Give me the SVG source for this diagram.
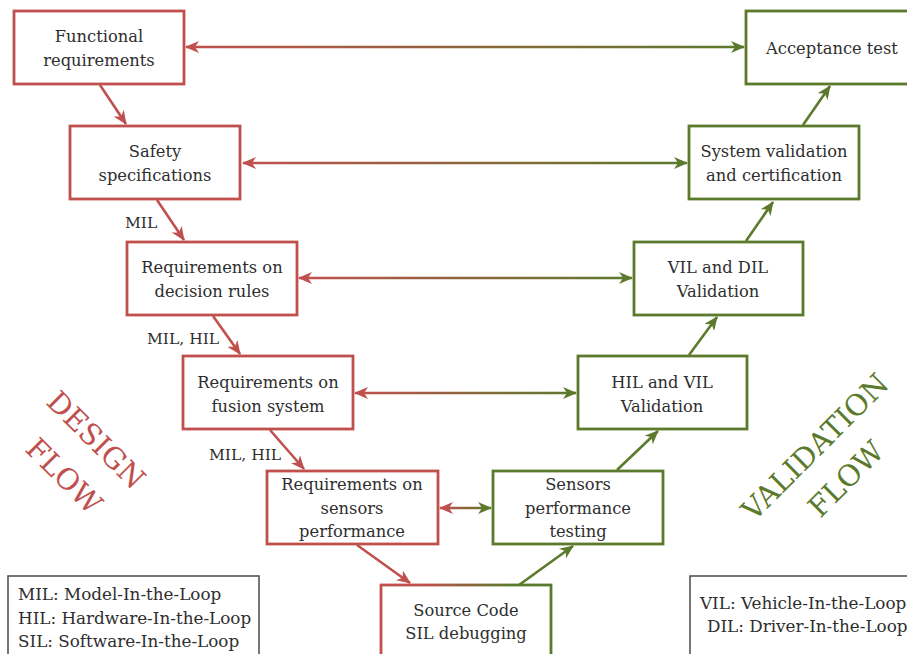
<svg xmlns="http://www.w3.org/2000/svg" width="907" height="654" viewBox="0 0 907 654">
  <defs>
    <style>
      .red { fill: #ffffff; stroke: #c0504d; stroke-width: 2.8; }
      .green { fill: #ffffff; stroke: #5b7a2c; stroke-width: 2.8; }
      .legend { fill: #ffffff; stroke: #555555; stroke-width: 1.6; }
      .lbl { font-family: "DejaVu Serif", "Liberation Serif", serif; font-size: 16.3px; fill: #2e2e2e; text-anchor: middle; }
      .note { font-family: "DejaVu Serif", "Liberation Serif", serif; font-size: 15.5px; fill: #2e2e2e; }
      .key { font-family: "DejaVu Serif", "Liberation Serif", serif; font-size: 16.8px; fill: #2e2e2e; }
      .big { font-family: "DejaVu Serif", "Liberation Serif", serif; font-size: 29px; text-anchor: middle; }
      .cr { fill: none; stroke: #c0504d; stroke-width: 2.6; marker-end: url(#headR); }
      .cg { fill: none; stroke: #5b7a2c; stroke-width: 2.6; marker-end: url(#headG); }
      .ch { fill: none; stroke-width: 2.6; marker-start: url(#headR); marker-end: url(#headG); }
    </style>
    <marker id="headR" viewBox="0 0 14 12" refX="13" refY="6" markerWidth="14" markerHeight="12" markerUnits="userSpaceOnUse" orient="auto-start-reverse">
      <path d="M0,0 L14,6 L0,12 L4,6 z" fill="#c0504d"/>
    </marker>
    <marker id="headG" viewBox="0 0 14 12" refX="13" refY="6" markerWidth="14" markerHeight="12" markerUnits="userSpaceOnUse" orient="auto-start-reverse">
      <path d="M0,0 L14,6 L0,12 L4,6 z" fill="#5b7a2c"/>
    </marker>
    <linearGradient id="g1" gradientUnits="userSpaceOnUse" x1="186" y1="0" x2="744" y2="0">
      <stop offset="0" stop-color="#c0504d"/><stop offset="1" stop-color="#5b7a2c"/>
    </linearGradient>
    <linearGradient id="g2" gradientUnits="userSpaceOnUse" x1="243" y1="0" x2="687" y2="0">
      <stop offset="0" stop-color="#c0504d"/><stop offset="1" stop-color="#5b7a2c"/>
    </linearGradient>
    <linearGradient id="g3" gradientUnits="userSpaceOnUse" x1="299" y1="0" x2="632" y2="0">
      <stop offset="0" stop-color="#c0504d"/><stop offset="1" stop-color="#5b7a2c"/>
    </linearGradient>
    <linearGradient id="g4" gradientUnits="userSpaceOnUse" x1="355" y1="0" x2="576" y2="0">
      <stop offset="0" stop-color="#c0504d"/><stop offset="1" stop-color="#5b7a2c"/>
    </linearGradient>
    <linearGradient id="g5" gradientUnits="userSpaceOnUse" x1="440" y1="0" x2="491" y2="0">
      <stop offset="0" stop-color="#c0504d"/><stop offset="1" stop-color="#5b7a2c"/>
    </linearGradient>
    <linearGradient id="gBox" x1="0" y1="0" x2="1" y2="0">
      <stop offset="0.25" stop-color="#c0504d"/><stop offset="0.75" stop-color="#5b7a2c"/>
    </linearGradient>
  </defs>

  <rect width="907" height="654" fill="#ffffff"/>

  <!-- connectors -->
  <g id="connectors">
    <!-- design flow (down the left branch) -->
    <line class="cr" x1="100" y1="85" x2="126" y2="124"/>
    <line class="cr" x1="157" y1="200" x2="184" y2="240"/>
    <line class="cr" x1="213" y1="316" x2="240" y2="354"/>
    <line class="cr" x1="270" y1="430" x2="304" y2="469"/>
    <line class="cr" x1="357" y1="545" x2="410" y2="583"/>
    <!-- validation flow (up the right branch) -->
    <line class="cg" x1="519" y1="585" x2="573" y2="546"/>
    <line class="cg" x1="617" y1="470" x2="658" y2="431"/>
    <line class="cg" x1="689" y1="355" x2="717" y2="317"/>
    <line class="cg" x1="746" y1="241" x2="773" y2="202"/>
    <line class="cg" x1="803" y1="125" x2="830" y2="86"/>
    <!-- cross links between levels -->
    <line class="ch" stroke="url(#g1)" x1="186" y1="47" x2="744" y2="47"/>
    <line class="ch" stroke="url(#g2)" x1="243" y1="163" x2="687" y2="163"/>
    <line class="ch" stroke="url(#g3)" x1="299" y1="278" x2="632" y2="278"/>
    <line class="ch" stroke="url(#g4)" x1="355" y1="393" x2="576" y2="393"/>
    <line class="ch" stroke="url(#g5)" x1="440" y1="508" x2="491" y2="508"/>
  </g>

  <!-- design nodes -->
  <g id="functional-requirements">
    <rect class="red" x="14" y="11" width="170" height="73"/>
    <text class="lbl" x="99" y="42">Functional</text>
    <text class="lbl" x="99" y="66">requirements</text>
  </g>
  <g id="safety-specifications">
    <rect class="red" x="70" y="126" width="170" height="73"/>
    <text class="lbl" x="155" y="157">Safety</text>
    <text class="lbl" x="155" y="181">specifications</text>
  </g>
  <g id="decision-rules">
    <rect class="red" x="127" y="242" width="170" height="73"/>
    <text class="lbl" x="212" y="273">Requirements on</text>
    <text class="lbl" x="212" y="297">decision rules</text>
  </g>
  <g id="fusion-system">
    <rect class="red" x="183" y="356" width="170" height="73"/>
    <text class="lbl" x="268" y="388">Requirements on</text>
    <text class="lbl" x="268" y="412">fusion system</text>
  </g>
  <g id="sensors-performance">
    <rect class="red" x="267" y="471" width="171" height="73"/>
    <text class="lbl" x="352" y="490">Requirements on</text>
    <text class="lbl" x="352" y="514">sensors</text>
    <text class="lbl" x="352" y="537">performance</text>
  </g>

  <!-- bottom node shared by both flows -->
  <g id="source-code">
    <rect x="381" y="585" width="170" height="90" fill="#ffffff" stroke="url(#gBox)" stroke-width="2.8"/>
    <text class="lbl" x="466" y="616">Source Code</text>
    <text class="lbl" x="466" y="639">SIL debugging</text>
  </g>

  <!-- validation nodes -->
  <g id="sensors-testing">
    <rect class="green" x="493" y="471" width="170" height="73"/>
    <text class="lbl" x="578" y="490">Sensors</text>
    <text class="lbl" x="578" y="514">performance</text>
    <text class="lbl" x="578" y="537">testing</text>
  </g>
  <g id="hil-vil-validation">
    <rect class="green" x="578" y="356" width="169" height="73"/>
    <text class="lbl" x="662" y="388">HIL and VIL</text>
    <text class="lbl" x="662" y="412">Validation</text>
  </g>
  <g id="vil-dil-validation">
    <rect class="green" x="634" y="242" width="169" height="73"/>
    <text class="lbl" x="718" y="273">VIL and DIL</text>
    <text class="lbl" x="718" y="297">Validation</text>
  </g>
  <g id="system-validation">
    <rect class="green" x="689" y="126" width="170" height="73"/>
    <text class="lbl" x="774" y="157">System validation</text>
    <text class="lbl" x="774" y="181">and certification</text>
  </g>
  <g id="acceptance-test">
    <rect class="green" x="746" y="11" width="172" height="73"/>
    <text class="lbl" x="832" y="54">Acceptance test</text>
  </g>

  <!-- simulation-level labels on the design branch -->
  <g id="level-labels">
    <text class="note" x="125" y="228">MIL</text>
    <text class="note" x="147" y="344">MIL, HIL</text>
    <text class="note" x="209" y="460">MIL, HIL</text>
  </g>

  <!-- flow titles -->
  <g id="design-flow" fill="#c0504d">
    <text class="big" transform="translate(96,440) rotate(45)" x="0" y="10">DESIGN</text>
    <text class="big" transform="translate(64,476) rotate(45)" x="0" y="10">FLOW</text>
  </g>
  <g id="validation-flow" fill="#5b7a2c">
    <text class="big" transform="translate(815,447) rotate(-45)" x="0" y="10">VALIDATION</text>
    <text class="big" transform="translate(846,479) rotate(-45)" x="0" y="10">FLOW</text>
  </g>

  <!-- legends -->
  <g id="legend-left">
    <rect class="legend" x="8" y="576" width="251" height="90"/>
    <text class="key" x="18" y="600">MIL: Model-In-the-Loop</text>
    <text class="key" x="18" y="624">HIL: Hardware-In-the-Loop</text>
    <text class="key" x="18" y="647">SIL: Software-In-the-Loop</text>
  </g>
  <g id="legend-right">
    <rect class="legend" x="690" y="576" width="240" height="90"/>
    <text class="key" x="700" y="609">VIL: Vehicle-In-the-Loop</text>
    <text class="key" x="707" y="632">DIL: Driver-In-the-Loop</text>
  </g>
</svg>
